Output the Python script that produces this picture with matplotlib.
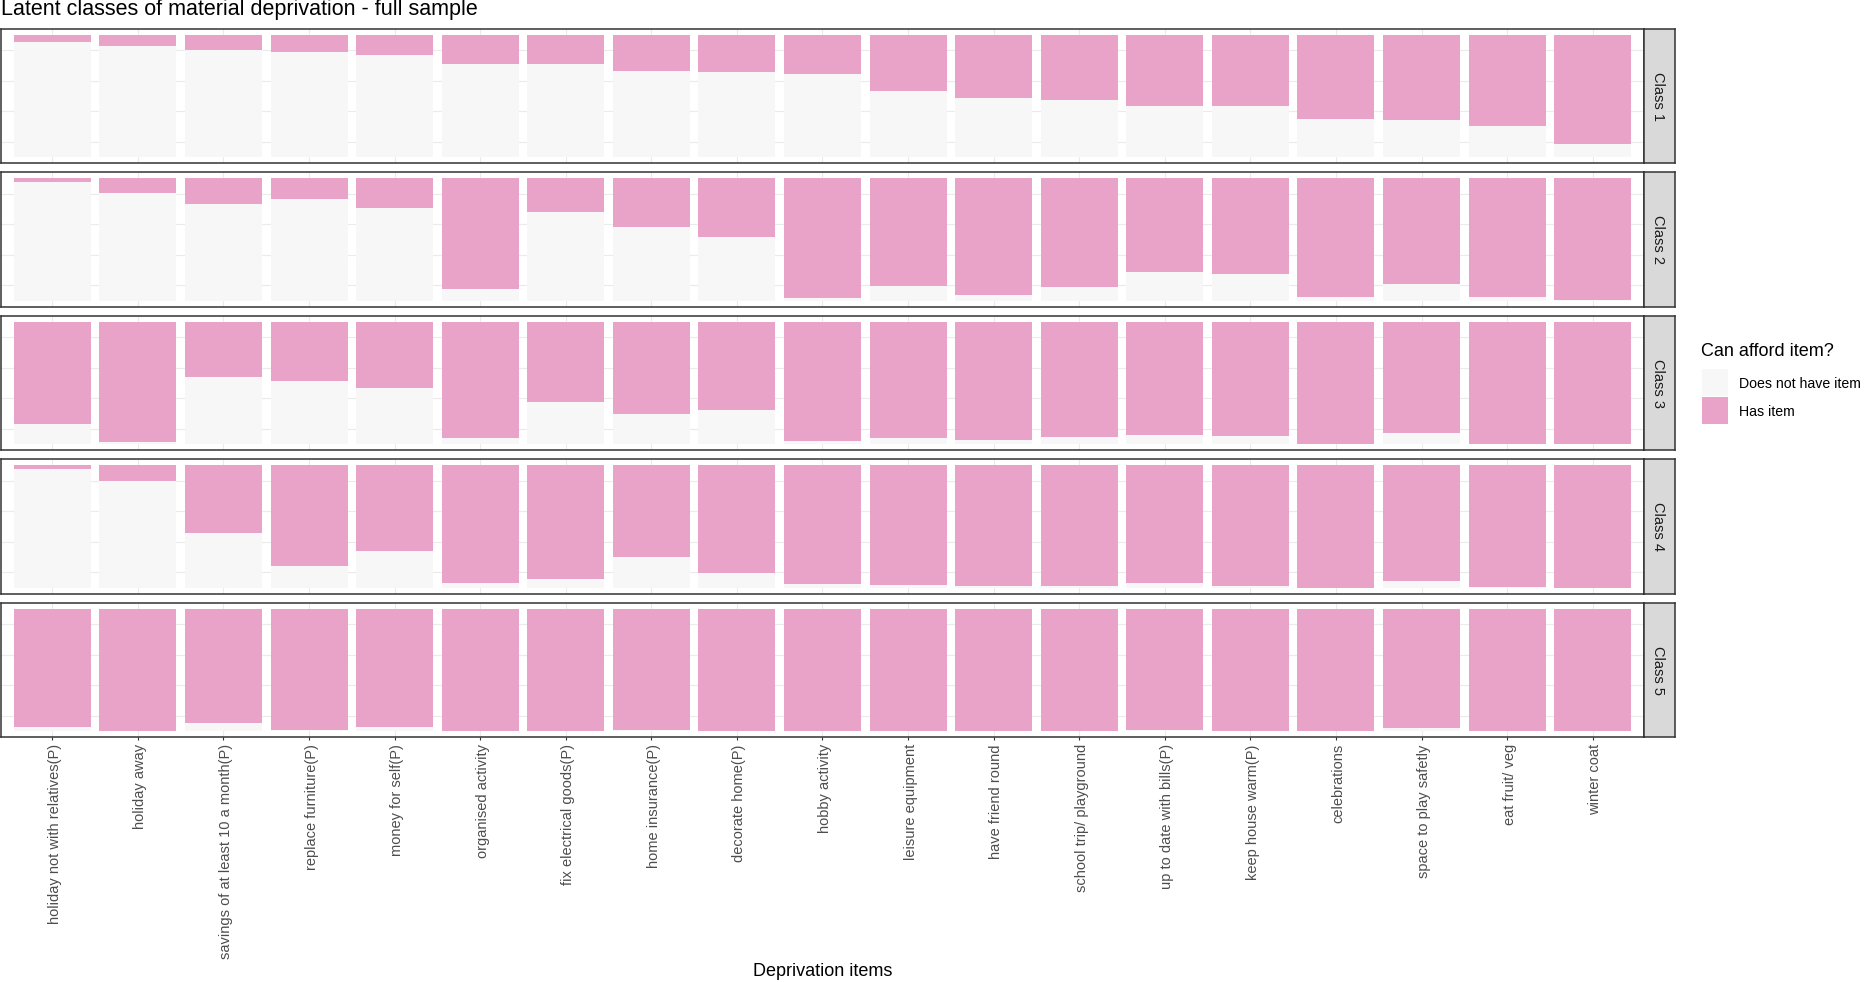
import matplotlib
matplotlib.use("Agg")
import matplotlib.pyplot as plt
import matplotlib.transforms as mtransforms
from matplotlib.patches import Rectangle
import numpy as np

plt.rcParams['font.family'] = ['Liberation Sans', 'DejaVu Sans']

items = [
    "holiday not with relatives(P)", "holiday away", "savings of at least 10 a month(P)",
    "replace furniture(P)", "money for self(P)", "organised activity",
    "fix electrical goods(P)", "home insurance(P)", "decorate home(P)",
    "hobby activity", "leisure equipment", "have friend round",
    "school trip/ playground", "up to date with bills(P)", "keep house warm(P)",
    "celebrations", "space to play safetly", "eat fruit/ veg", "winter coat",
]
classes = ["Class 1", "Class 2", "Class 3", "Class 4", "Class 5"]
legend_labels = ["Does not have item", "Has item"]

# share of each class that does NOT have the item
lacks_class1 = [0.942, 0.910, 0.877, 0.860, 0.836, 0.762, 0.762, 0.704, 0.696, 0.679,
                0.540, 0.482, 0.466, 0.416, 0.416, 0.310, 0.301, 0.252, 0.104]
lacks_class2 = [0.967, 0.878, 0.788, 0.829, 0.755, 0.095, 0.723, 0.601, 0.519, 0.022,
                0.120, 0.046, 0.111, 0.234, 0.217, 0.030, 0.136, 0.030, 0.005]
lacks_class3 = [0.162, 0.014, 0.548, 0.515, 0.458, 0.047, 0.342, 0.244, 0.277, 0.022,
                0.047, 0.038, 0.055, 0.079, 0.063, 0.005, 0.088, 0.005, 0.000]
lacks_class4 = [0.967, 0.869, 0.451, 0.180, 0.303, 0.041, 0.074, 0.254, 0.123, 0.033,
                0.025, 0.016, 0.016, 0.041, 0.016, 0.000, 0.057, 0.008, 0.000]
lacks_class5 = [0.033, 0.000, 0.066, 0.008, 0.033, 0.000, 0.000, 0.008, 0.000, 0.000,
                0.000, 0.000, 0.000, 0.008, 0.000, 0.000, 0.025, 0.000, 0.000]
lacks = [lacks_class1, lacks_class2, lacks_class3, lacks_class4, lacks_class5]

GREY = "#F7F7F7"
PINK = "#E9A3C9"
FRAME = "#333333"

W, H = 1865, 982
fig = plt.figure(figsize=(W / 100, H / 100), dpi=100)

panel_left, panel_right = 1, 1644
strip_right = 1675
panel_top0, panel_h, pitch = 28.8, 134.5, 143.5

x = np.arange(1, len(items) + 1)

for i, (cls, lack) in enumerate(zip(classes, lacks)):
    top = panel_top0 + i * pitch
    rect = [panel_left / W, 1 - (top + panel_h) / H,
            (panel_right - panel_left) / W, panel_h / H]
    ax = fig.add_axes(rect)
    lack = np.array(lack)
    has = 1 - lack
    ax.bar(x, lack, width=0.9, color=GREY, zorder=2)
    ax.bar(x, has, bottom=lack, width=0.9, color=PINK, zorder=2)
    ax.set_xlim(0.4, len(items) + 0.6)
    ax.set_ylim(-0.05, 1.05)
    ax.set_yticks([0.125, 0.375, 0.625, 0.875])
    ax.set_xticks(x)
    ax.grid(True, color="#EBEBEB", lw=0.8, zorder=0)
    ax.set_axisbelow(True)
    ax.tick_params(axis="y", length=0, labelleft=False)
    for s in ax.spines.values():
        s.set_color(FRAME)
        s.set_linewidth(1.1)
    if i == len(classes) - 1:
        ax.set_xticklabels(items, rotation=90, ha="center", va="top",
                           fontsize=10.5, color="#4D4D4D")
        ax.tick_params(axis="x", length=2.5, width=0.8, color=FRAME, pad=2.5)
        shift = mtransforms.ScaledTranslation(2.5 / 100, 0, fig.dpi_scale_trans)
        for lbl in ax.get_xticklabels():
            lbl.set_transform(lbl.get_transform() + shift)
    else:
        ax.tick_params(axis="x", length=0, labelbottom=False)

    # facet strip
    sax = fig.add_axes([panel_right / W, rect[1], (strip_right - panel_right) / W, rect[3]])
    sax.set_facecolor("#D9D9D9")
    sax.set_xticks([])
    sax.set_yticks([])
    for s in sax.spines.values():
        s.set_color(FRAME)
        s.set_linewidth(1.1)
    sax.text(0.45, 0.5, cls, rotation=270, ha="center", va="center",
             fontsize=10.5, color="#1A1A1A", transform=sax.transAxes)

fig.text(1 / W, 1 - 9.5 / H, "Latent classes of material deprivation - full sample",
         fontsize=15.5, ha="left", va="center")
fig.text((panel_left + panel_right) / 2 / W, 1 - 971.5 / H, "Deprivation items",
         fontsize=13, ha="center", va="center")

# legend, drawn by hand in figure pixels
fig.text(1701 / W, 1 - 351 / H, "Can afford item?", fontsize=13, ha="left", va="center")
key_x, key_size = 1702, 26.5
for j, (lab, col) in enumerate(zip(legend_labels, [GREY, PINK])):
    key_top = 369 + j * 28
    fig.add_artist(Rectangle((key_x / W, 1 - (key_top + key_size) / H),
                             key_size / W, key_size / H, facecolor=col,
                             edgecolor="none", transform=fig.transFigure))
    fig.text(1739 / W, 1 - (key_top + key_size / 2 + 1.5) / H, lab, fontsize=10.2,
             ha="left", va="center")

fig.savefig("out.png", dpi=100, facecolor="white")
